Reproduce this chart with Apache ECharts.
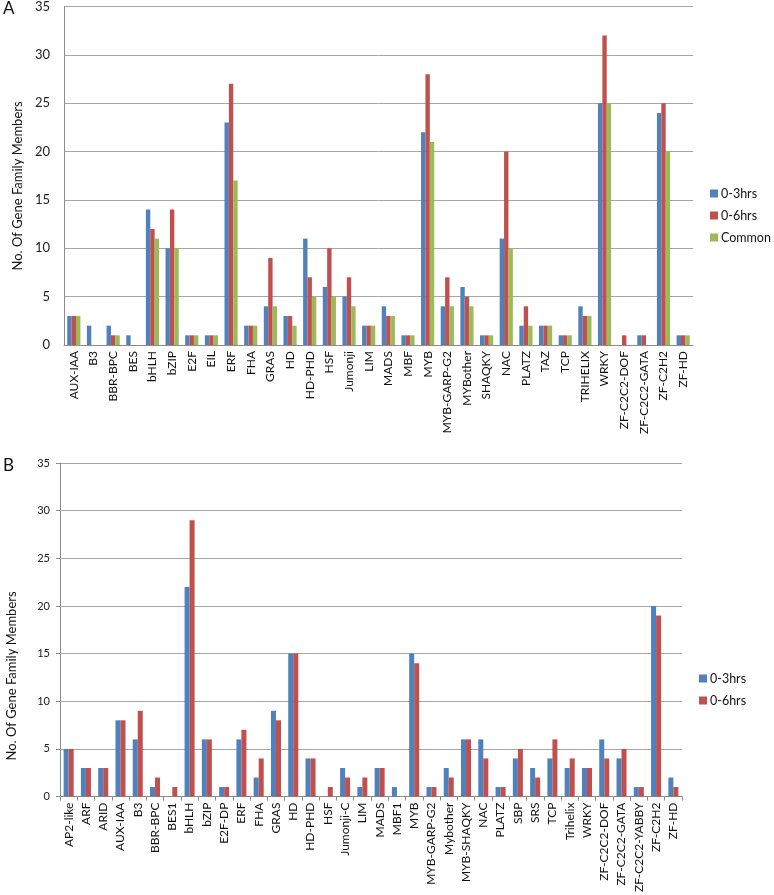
<!DOCTYPE html>
<html><head><meta charset="utf-8">
<script src="https://cdn.jsdelivr.net/npm/echarts@6/dist/echarts.min.js"></script>
<style>html,body{margin:0;padding:0;background:#fff}#c{width:774px;height:895px}</style>
</head><body><div id="c"></div>
<script>
const catsA = ["AUX-IAA","B3","BBR-BPC","BES","bHLH","bZIP","E2F","EIL","ERF","FHA","GRAS","HD","HD-PHD","HSF","Jumonji","LIM","MADS","MBF","MYB","MYB-GARP-G2","MYBother","SHAQKY","NAC","PLATZ","TAZ","TCP","TRIHELIX","WRKY","ZF-C2C2-DOF","ZF-C2C2-GATA","ZF-C2H2","ZF-HD"];
const a3hrs  = [3,2,2,1,14,10,1,1,23,2,4,3,11,6,5,2,4,1,22,4,6,1,11,2,2,1,4,25,0,1,24,1];
const a6hrs  = [3,0,1,0,12,14,1,1,27,2,9,3,7,10,7,2,3,1,28,7,5,1,20,4,2,1,3,32,1,1,25,1];
const aCommon= [3,0,1,0,11,10,1,1,17,2,4,2,5,5,4,2,3,1,21,4,4,1,10,2,2,1,3,25,0,0,20,1];

const catsB = ["AP2-like","ARF","ARID","AUX-IAA","B3","BBR-BPC","BES1","bHLH","bZIP","E2F-DP","ERF","FHA","GRAS","HD","HD-PHD","HSF","Jumonji-C","LIM","MADS","MBF1","MYB","MYB-GARP-G2","Mybother","MYB-SHAQKY","NAC","PLATZ","SBP","SRS","TCP","Trihelix","WRKY","ZF-C2C2-DOF","ZF-C2C2-GATA","ZF-C2C2-YABBY","ZF-C2H2","ZF-HD"];
const b3hrs = [5,3,3,8,6,1,0,22,6,1,6,2,9,15,4,0,3,1,3,1,15,1,3,6,6,1,4,3,4,3,3,6,4,1,20,2];
const b6hrs = [5,3,3,8,9,2,1,29,6,1,7,4,8,15,4,1,2,2,3,0,14,1,2,6,4,1,5,2,6,4,3,4,5,1,19,1];

const yTicks = [0,5,10,15,20,25,30,35];
const FONT = "Lato";
const BLUE = "#4F81BD", RED = "#C0504D", GREEN = "#9BBB59";

const chart = echarts.init(document.getElementById('c'), null, {renderer:'canvas'});

function yAxis(gi, fs, tick) {
  return {
    type:'value', gridIndex:gi, min:yTicks[0], max:yTicks[yTicks.length-1], interval:5,
    axisLine:{show:true, lineStyle:{color:'#8c8c8c', width:1}},
    axisTick:{show:tick, length:4, lineStyle:{color:'#8c8c8c'}},
    axisLabel:{fontFamily:FONT, fontSize:fs, color:'#222', margin:tick?10:14},
    splitLine:{lineStyle:{color:'#a6a6a6', width:1}}
  };
}
function xAxis(gi, cats, tick) {
  return {
    type:'category', gridIndex:gi, data:cats,
    axisLine:{show:true, lineStyle:{color:'#8c8c8c', width:1}},
    axisTick:{show:tick, length:4, alignWithLabel:false, lineStyle:{color:'#8c8c8c'}},
    axisLabel:{interval:0, rotate:90, fontFamily:FONT, fontSize:12, color:'#111', margin:6}
  };
}

chart.setOption({
  animation:false,
  backgroundColor:'#fff',
  grid:[
    {left:64, top:6, width:629, height:339},
    {left:60, top:463, width:622, height:341}
  ],
  xAxis:[xAxis(0, catsA, false), xAxis(1, catsB, true)],
  yAxis:[yAxis(0, 13, false), yAxis(1, 11, true)],
  legend:[
    {orient:'vertical', left:710, top:187, itemWidth:8, itemHeight:8, itemGap:9, padding:0,
     icon:'rect', textStyle:{fontFamily:FONT, fontSize:12.5, color:'#111', padding:[0,0,0,-2]},
     data:['0-3hrs','0-6hrs','Common']},
    {orient:'vertical', left:699, top:672, itemWidth:8, itemHeight:8, itemGap:9, padding:0,
     icon:'rect', textStyle:{fontFamily:FONT, fontSize:12.5, color:'#111', padding:[0,0,0,-2]},
     data:['0-3hrs ','0-6hrs ']}
  ],
  series:[
    {name:'0-3hrs', type:'bar', xAxisIndex:0, yAxisIndex:0, data:a3hrs, itemStyle:{color:BLUE}, barGap:'0%', barCategoryGap:'33%'},
    {name:'0-6hrs', type:'bar', xAxisIndex:0, yAxisIndex:0, data:a6hrs, itemStyle:{color:RED}, barGap:'0%', barCategoryGap:'33%'},
    {name:'Common', type:'bar', xAxisIndex:0, yAxisIndex:0, data:aCommon, itemStyle:{color:GREEN}, barGap:'0%', barCategoryGap:'33%'},
    {name:'0-3hrs ', type:'bar', xAxisIndex:1, yAxisIndex:1, data:b3hrs, itemStyle:{color:BLUE}, barGap:'0%', barCategoryGap:'42%'},
    {name:'0-6hrs ', type:'bar', xAxisIndex:1, yAxisIndex:1, data:b6hrs, itemStyle:{color:RED}, barGap:'0%', barCategoryGap:'42%'}
  ],
  graphic:[
    {type:'text', left:3, top:0, style:{text:'A', fontFamily:FONT, fontSize:17, fill:'#111'}},
    {type:'text', left:3, top:457, style:{text:'B', fontFamily:FONT, fontSize:17, fill:'#111'}},
    {type:'text', x:18, y:186, rotation:Math.PI/2, style:{text:'No. Of Gene Family Members', fontFamily:FONT, fontSize:13, fill:'#111', align:'center', verticalAlign:'middle'}},
    {type:'text', x:12, y:676, rotation:Math.PI/2, style:{text:'No. Of Gene Family Members', fontFamily:FONT, fontSize:13, fill:'#111', align:'center', verticalAlign:'middle'}}
  ]
});
</script></body></html>
